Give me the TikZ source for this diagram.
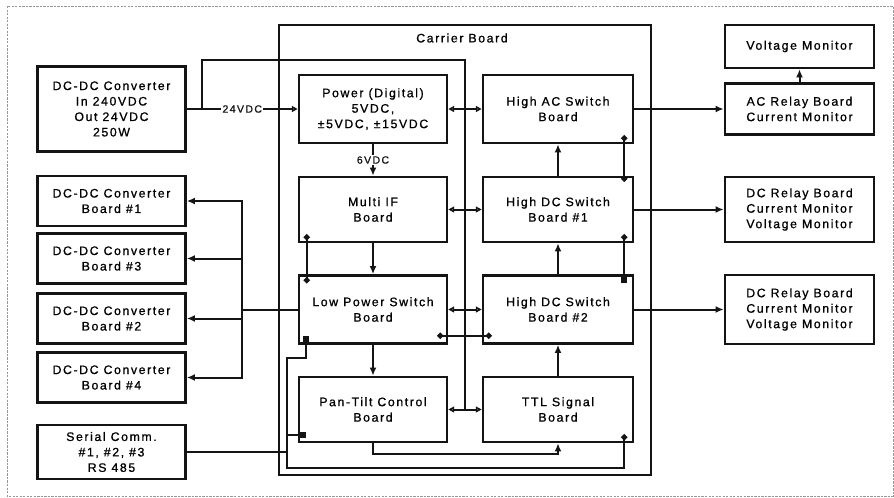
\documentclass[tikz,border=0pt]{standalone}
\usepackage{fontspec}
\setmainfont{Liberation Sans}[LetterSpace=13, FakeBold=0.8]
\usepackage{tikz}
\usetikzlibrary{arrows.meta, positioning, calc}
\definecolor{mydark}{RGB}{20,20,20}
\definecolor{myframe}{RGB}{150,150,150}
\tikzset{
  block/.style={rectangle, draw=mydark, fill=white, align=center,
    minimum width=4.44cm, inner sep=1pt,
    font=\fontsize{10.5}{13.2}\selectfont, line width=2.2pt},
  lbl/.style={fill=white, inner sep=1pt, font=\fontsize{9}{11}\selectfont},
  line/.style={line width=1.7pt, color=mydark},
  arrow/.style={-{Latex[length=7pt, width=6pt]}, line width=1.7pt, color=mydark},
  biarrow/.style={{Triangle[open, length=5pt, width=5pt]}-{Triangle[open, length=5pt, width=5pt]},
    line width=1.7pt, color=mydark},
  triarrow/.style={-{Triangle[open, length=5pt, width=5pt]}, line width=1.7pt, color=mydark},
  dotline/.style={{Circle[length=5pt]}-{Circle[length=5pt]}, line width=1.7pt, color=mydark}
}

\begin{document}
\begin{tikzpicture}[x=0.03cm, y=-0.03cm]
  \useasboundingbox (0,0) rectangle (894,497);
  % page frame
  \draw[myframe, line width=0.8pt, dash pattern=on 2pt off 1pt] (7,6) rectangle (893,496);

  % Carrier board
  \draw[line] (279,25) rectangle (651,475);
  \node[font=\fontsize{10.5}{12}\selectfont] (carrier) at (462,38) {Carrier Board};

  % left column
  \node[block, minimum height=2.55cm] (conv) at (111.5,109) {DC-DC Converter\\In 240VDC\\Out 24VDC\\250W};
  \node[block, minimum height=1.5cm] (conv1) at (111.5,201) {DC-DC Converter\\Board \#1};
  \node[block, minimum height=1.5cm] (conv3) at (111.5,258.5) {DC-DC Converter\\Board \#3};
  \node[block, minimum height=1.5cm] (conv2) at (111.5,318.5) {DC-DC Converter\\Board \#2};
  \node[block, minimum height=1.5cm] (conv4) at (111.5,377.5) {DC-DC Converter\\Board \#4};
  \node[block, minimum height=1.62cm] (serial) at (111.5,452) {Serial Comm.\\\#1, \#2, \#3\\RS 485};

  % carrier board, left
  \node[block, minimum height=2.04cm] (power) at (373,109) {Power (Digital)\\5VDC,\\±5VDC, ±15VDC};
  \node[block, minimum height=1.95cm] (multiif) at (373,209.5) {Multi IF\\Board};
  \node[block, minimum height=2.04cm] (lowpow) at (373,309.5) {Low Power Switch\\Board};
  \node[block, minimum height=1.95cm] (pantilt) at (373,409.5) {Pan-Tilt Control\\Board};

  % carrier board, right
  \node[block, minimum width=4.5cm, minimum height=2.04cm] (highac) at (558,109) {High AC Switch\\Board};
  \node[block, minimum width=4.5cm, minimum height=1.95cm] (highdc1) at (558,209.5) {High DC Switch\\Board \#1};
  \node[block, minimum width=4.5cm, minimum height=2.04cm] (highdc2) at (558,309.5) {High DC Switch\\Board \#2};
  \node[block, minimum width=4.5cm, minimum height=1.95cm] (ttl) at (558,409.5) {TTL Signal\\Board};

  % relay boards
  \node[block, minimum width=4.47cm, minimum height=1.29cm] (vmon) at (799.5,46.5) {Voltage Monitor};
  \node[block, minimum width=4.47cm, minimum height=1.53cm] (acrelay) at (799.5,109) {AC Relay Board\\Current Monitor};
  \node[block, minimum width=4.47cm, minimum height=1.95cm] (dcrelay1) at (799.5,209.5) {DC Relay Board\\Current Monitor\\Voltage Monitor};
  \node[block, minimum width=4.47cm, minimum height=2.07cm] (dcrelay2) at (799.5,309.5) {DC Relay Board\\Current Monitor\\Voltage Monitor};

  % helper points
  \coordinate (j24) at ($(conv.east)+(15,0)$);
  \coordinate (busup) at (465,60);
  \coordinate (busdn) at (465,409.5);
  \coordinate (lbus) at ($(lowpow.west)+(-56,0)$);
  \coordinate (acdot) at ($(highac.south east)+(-10,-9)$);
  \coordinate (dc1top) at ($(highdc1.north east)+(-10,6)$);
  \coordinate (dc1bot) at ($(highdc1.south east)+(-10,-9)$);
  \coordinate (dc2top) at ($(highdc2.north east)+(-10,9)$);
  \coordinate (mifdot) at ($(multiif.south west)+(9,-9)$);
  \coordinate (lptop) at ($(lowpow.north west)+(9,9)$);
  \coordinate (lpdot) at ($(lowpow.south east)+(-11,-9)$);
  \coordinate (dc2dot) at ($(highdc2.south west)+(10,-9)$);
  \coordinate (lpsq) at ($(lowpow.south west)+(8,-9)$);
  \coordinate (ptsq) at ($(pantilt.south west)+(8,-8)$);
  \coordinate (ttldot) at ($(ttl.south east)+(-10,-9)$);
  \coordinate (lpkink) at ($(lpsq)+(0,22)$);
  \coordinate (lbot) at (287,468);

  % 24VDC supply and bus
  \draw[triarrow] (conv.east) -- node[lbl] (v24) {24VDC} (power.west);
  \draw[line] (j24) |- (busup) -- (busdn);
  \draw[biarrow] (power.east) -- (highac.west);
  \draw[biarrow] (multiif.east) -- (highdc1.west);
  \draw[biarrow] (lowpow.east) -- (highdc2.west);
  \draw[biarrow] (pantilt.east) -- (ttl.west);

  % DC-DC converter boards
  \draw[line] (lowpow.west) -- (lbus);
  \draw[arrow] (lbus) |- (conv1);
  \draw[arrow] (lbus) |- (conv3);
  \draw[arrow] (lbus) |- (conv2);
  \draw[arrow] (lbus) |- (conv4);

  % left column of carrier
  \draw[arrow] (power.south) -- node[lbl] (v6) {6VDC} (multiif.north);
  \draw[arrow] (multiif.south) -- (lowpow.north);
  \draw[arrow] (lowpow.south) -- (pantilt.north);
  \draw[dotline] (mifdot) -- (lptop);
  \draw[dotline] (lpdot) -- (dc2dot);
  \draw[arrow] (pantilt.south) -- ++(0,11) -| (ttl.south);

  % right column of carrier
  \draw[arrow] (highdc1.north) -- (highac.south);
  \draw[arrow] (highdc2.north) -- (highdc1.south);
  \draw[arrow] (ttl.north) -- (highdc2.south);
  \draw[dotline] (acdot) -- (dc1top);
  \draw[line, {Circle[length=5pt]}-{Square[length=5pt]}] (dc1bot) -- (dc2top);

  % serial loop
  \draw[line, {Circle[length=5pt]}-{Square[length=5pt]}] (ttldot) |- (lbot) |- (lpkink) -- (lpsq);
  \draw[line, -{Square[length=5pt]}] (ptsq -| lbot) -- (ptsq);
  \draw[line] (serial.east) -- (serial.east -| lbot);

  % relay boards
  \draw[arrow] (highac.east) -- (acrelay.west);
  \draw[arrow] (highdc1.east) -- (dcrelay1.west);
  \draw[arrow] (highdc2.east) -- (dcrelay2.west);
  \draw[arrow] (acrelay.north) -- (vmon.south);
\end{tikzpicture}
\end{document}
